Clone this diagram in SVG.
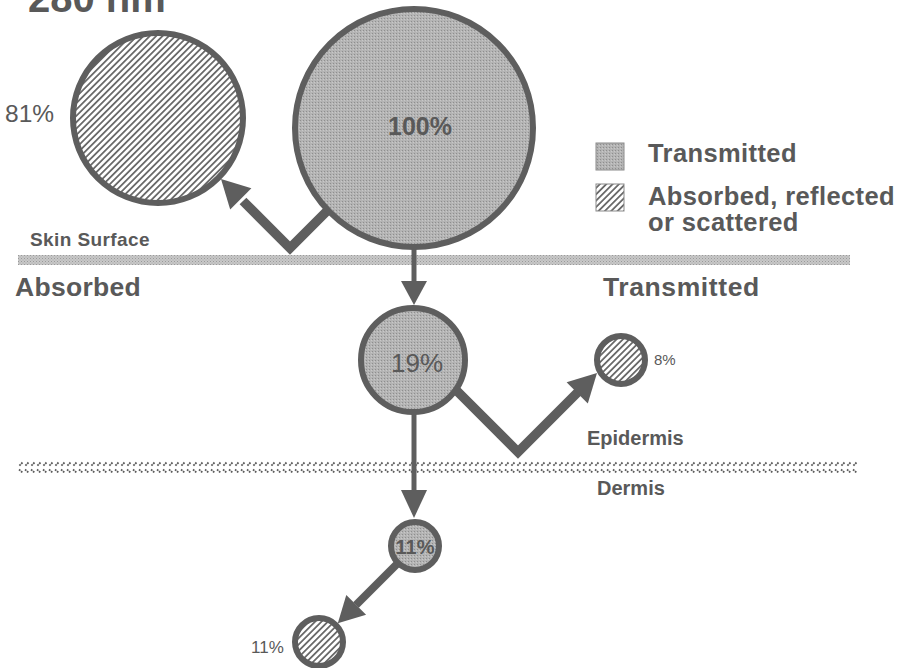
<svg xmlns="http://www.w3.org/2000/svg" width="910" height="668" viewBox="0 0 910 668">
<style>
text{font-family:"Liberation Sans",Arial,sans-serif;fill:#595959;font-weight:bold}
.reg{font-weight:normal}
.circ{stroke:#5e5e5e;stroke-width:6}
.tr{fill:url(#dots)}
.ab{fill:url(#hatch)}
.con{fill:none;stroke:#5e5e5e;stroke-linejoin:miter}
.head{fill:#5e5e5e}
.leg{font-size:25.5px;letter-spacing:0.4px}
</style>
<defs>
<pattern id="dots" width="3" height="3" patternUnits="userSpaceOnUse">
<rect width="3" height="3" fill="#b4b4b4"/>
<rect width="1" height="1" fill="#8e8e8e"/>
<rect x="2" y="1" width="1" height="1" fill="#c8c8c8"/>
</pattern>
<pattern id="hatch" width="4.5" height="4.5" patternUnits="userSpaceOnUse" patternTransform="rotate(45)">
<rect width="4.5" height="4.5" fill="#fff"/>
<rect width="1.8" height="4.5" fill="#6a6a6a"/>
</pattern>
<pattern id="skin" width="3" height="3" patternUnits="userSpaceOnUse">
<rect width="3" height="3" fill="#c8c8c8"/>
<rect width="1" height="1" fill="#9a9a9a"/>
<rect x="1.5" y="1.5" width="1" height="1" fill="#a8a8a8"/>
</pattern>
<pattern id="derm" width="6" height="12" patternUnits="userSpaceOnUse">
<rect width="6" height="12" fill="#fff"/>
<path d="M1,1.5 L4.5,4.5 M4.5,6.5 L1,10" stroke="#5a5a5a" stroke-width="1.8" stroke-dasharray="1.8,0.8"/>
</pattern>
</defs>

<text x="28" y="12" style="font-size:40px">280 nm</text>

<g id="layers">
<rect id="skin-surface" x="18" y="255" width="832" height="10" fill="url(#skin)"/>
<rect id="dermis-line" x="18" y="461" width="840" height="12" fill="url(#derm)"/>
<text x="30" y="246" style="font-size:19px;letter-spacing:0.4px">Skin Surface</text>
<text x="15" y="296" style="font-size:26.5px;letter-spacing:0.3px">Absorbed</text>
<text x="603" y="296" style="font-size:26.5px;letter-spacing:0.6px">Transmitted</text>
<text x="587" y="445" style="font-size:20px">Epidermis</text>
<text x="597" y="495" style="font-size:20px">Dermis</text>
</g>

<g id="connectors">
<path class="con" d="M334,204 L290,248 L243,201" stroke-width="9.5"/>
<polygon class="head" points="221,179 251.4,188.2 230.2,209.4"/>
<path class="con" d="M414,248 L414,284" stroke-width="5"/>
<polygon class="head" points="401,281 427,281 414,305"/>
<path class="con" d="M450,384 L518,452 L579,391" stroke-width="9.5"/>
<polygon class="head" points="597,373 587.8,403.4 566.6,382.2"/>
<path class="con" d="M414,414 L414,492" stroke-width="5"/>
<polygon class="head" points="401,490 427,490 414,518"/>
<path class="con" d="M398,563 L356,605" stroke-width="8"/>
<polygon class="head" points="337.8,623.2 366.1,614.7 346.3,594.9"/>
</g>

<g id="n100">
<circle class="circ tr" cx="414" cy="128" r="119"/>
<text x="420" y="135" text-anchor="middle" style="font-size:25px">100%</text>
</g>
<g id="n81">
<circle class="circ ab" cx="158" cy="118" r="85"/>
<text class="reg" x="5" y="122" style="font-size:24.5px">81%</text>
</g>
<g id="n19">
<circle class="circ tr" cx="413" cy="360" r="52"/>
<text class="reg" x="417" y="372" text-anchor="middle" style="font-size:26px">19%</text>
</g>
<g id="n8">
<circle class="circ ab" cx="621" cy="360" r="24"/>
<text class="reg" x="654" y="365" style="font-size:15px">8%</text>
</g>
<g id="n11t">
<circle class="circ tr" cx="415" cy="546" r="24"/>
<text x="415" y="554" text-anchor="middle" style="font-size:20px">11%</text>
</g>
<g id="n11a">
<circle class="circ ab" cx="319" cy="642" r="24"/>
<text class="reg" x="251" y="653" style="font-size:17px">11%</text>
</g>

<g id="legend">
<rect x="596" y="143" width="28" height="27" fill="url(#dots)" stroke="#8a8a8a" stroke-width="1"/>
<text class="leg" x="648" y="162">Transmitted</text>
<rect x="596" y="184" width="28" height="27" fill="url(#hatch)" stroke="#8a8a8a" stroke-width="1"/>
<text class="leg" x="648" y="205">Absorbed, reflected</text>
<text class="leg" x="648" y="231">or scattered</text>
</g>
</svg>
